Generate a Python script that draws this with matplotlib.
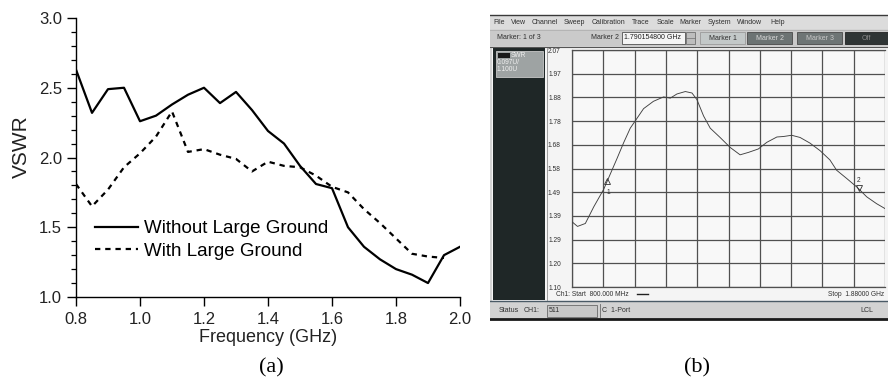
import matplotlib
matplotlib.use("Agg")
import matplotlib.pyplot as plt
from matplotlib.patches import Rectangle
from matplotlib.ticker import MultipleLocator

# ---- panel (a) data : VSWR vs frequency (GHz)
freq_a = [0.80, 0.85, 0.90, 0.95, 1.00, 1.05, 1.10, 1.15, 1.20, 1.25, 1.30, 1.35, 1.40,
          1.45, 1.50, 1.55, 1.60, 1.65, 1.70, 1.75, 1.80, 1.85, 1.90, 1.95, 2.00]
vswr_without = [2.63, 2.32, 2.49, 2.50, 2.26, 2.30, 2.38, 2.45, 2.50, 2.39, 2.47, 2.34, 2.19,
                2.10, 1.94, 1.81, 1.78, 1.50, 1.36, 1.27, 1.20, 1.16, 1.10, 1.30, 1.36]
vswr_with = [1.81, 1.65, 1.77, 1.93, 2.03, 2.15, 2.33, 2.04, 2.06, 2.02, 1.99, 1.90, 1.97,
             1.94, 1.93, 1.87, 1.79, 1.75, 1.63, 1.53, 1.42, 1.31, 1.29, 1.28]
legend_labels = ["Without Large Ground", "With Large Ground"]

# ---- panel (b) data : analyzer trace (MHz, VSWR)
trace_freq = [800, 819, 846, 875, 909, 955, 978, 1001, 1024, 1047, 1081, 1116, 1139, 1162,
              1191, 1214, 1231, 1254, 1277, 1311, 1346, 1380, 1409, 1443, 1472, 1507, 1530,
              1558, 1587, 1621, 1656, 1690, 1713, 1748, 1782, 1817, 1851, 1880]
trace_vswr = [1.367, 1.348, 1.360, 1.428, 1.499, 1.625, 1.690, 1.750, 1.790, 1.830, 1.860,
              1.878, 1.873, 1.890, 1.900, 1.894, 1.867, 1.800, 1.750, 1.712, 1.671, 1.641,
              1.651, 1.665, 1.692, 1.714, 1.716, 1.721, 1.712, 1.689, 1.658, 1.620, 1.578,
              1.544, 1.510, 1.469, 1.441, 1.421]
marker_freq = [920.1608, 1790.155]
marker_vswr = [1.534, 1.506]
ytick_labels = ["1.10", "1.20", "1.29", "1.39", "1.49", "1.58", "1.68", "1.78", "1.88", "1.97", "2.07"]
menu_items = ["File", "View", "Channel", "Sweep", "Calibration", "Trace", "Scale", "Marker",
              "System", "Window", "Help"]

W, H = 888, 382
fig = plt.figure(figsize=(W / 100, H / 100), dpi=100)
sans = "Liberation Sans"


def fbox(x0, y0, x1, y1):
    # pixel box (top-left origin) -> figure fraction
    return [x0 / W, (H - y1) / H, (x1 - x0) / W, (y1 - y0) / H]


# ================= panel (a)
ax = fig.add_axes(fbox(76, 18, 460, 297))
ax.plot(freq_a, vswr_without, color="black", lw=1.6, label=legend_labels[0])
ax.plot(freq_a[:len(vswr_with)], vswr_with, color="black", lw=1.6,
        dashes=(2.4, 2.2), label=legend_labels[1])
ax.set_xlim(0.8, 2.0)
ax.set_ylim(1.0, 3.0)
ax.xaxis.set_major_locator(MultipleLocator(0.2))
ax.yaxis.set_major_locator(MultipleLocator(0.5))
ax.yaxis.set_minor_locator(MultipleLocator(0.1))
ax.xaxis.set_major_formatter(matplotlib.ticker.FormatStrFormatter("%.1f"))
ax.yaxis.set_major_formatter(matplotlib.ticker.FormatStrFormatter("%.1f"))
for s in ["top", "right"]:
    ax.spines[s].set_visible(False)
for s in ["left", "bottom"]:
    ax.spines[s].set_linewidth(1.0)
ax.tick_params(axis="both", which="major", direction="out", length=6.5, width=1.0,
               labelsize=12, colors="black")
ax.tick_params(axis="y", which="major", pad=3.5)
ax.tick_params(axis="x", which="major", pad=4)
ax.tick_params(axis="y", which="minor", direction="out", length=3.5, width=0.9)
for lab in ax.get_xticklabels() + ax.get_yticklabels():
    lab.set_family(sans)
    lab.set_color("#222222")
ax.set_xlabel("Frequency (GHz)", fontsize=13, family=sans, color="#222222")
ax.set_ylabel("VSWR", fontsize=15, family=sans, color="#222222")
ax.xaxis.set_label_coords(0.5, (297 - 329) / 279)
ax.yaxis.label.set_va("center")
ax.yaxis.set_label_coords((21 - 76) / 384, (297 - 147) / 279)
ax.legend(loc="upper left", bbox_to_anchor=(95 / W, 1 - 220 / H), bbox_transform=fig.transFigure,
          frameon=False, borderpad=0, borderaxespad=0, handlelength=2.3, handletextpad=0.3,
          labelspacing=0.3, prop={"family": sans, "size": 13.5})
fig.text(271 / W, 1 - 368 / H, "(a)", ha="center", va="center", fontsize=16,
         family="Liberation Serif")
fig.text(697 / W, 1 - 368 / H, "(b)", ha="center", va="center", fontsize=16,
         family="Liberation Serif")

# ================= panel (b) : window chrome in pixel coords
aw = fig.add_axes(fbox(490, 14, 888, 322))
aw.set_xlim(490, 888)
aw.set_ylim(322, 14)
aw.axis("off")


def rect(x0, y0, x1, y1, fc, ec="none", lw=0.6, z=1):
    aw.add_patch(Rectangle((x0, y0), x1 - x0, y1 - y0, facecolor=fc, edgecolor=ec, lw=lw, zorder=z))


def txt(x, y, s, ha="left", c="#303030", size=5.0, z=5):
    aw.text(x, y, s, ha=ha, va="center", color=c, fontsize=size, family=sans, zorder=z)


rect(490, 15, 888, 320, "#d4d4d4")
aw.plot([490, 888], [15.3, 15.3], color="#3a3a3a", lw=1.0, zorder=3)
rect(490, 16, 888, 29, "#dcdcdc")
aw.plot([490, 888], [29.5, 29.5], color="#b0b0b0", lw=0.6, zorder=3)
menu_x = [493, 511, 532, 564, 592, 632, 657, 679, 708, 737, 770]
for mx, m in zip(menu_x, menu_items):
    txt(mx, 22.5, m)

# toolbar
rect(490, 30, 888, 46, "#cacaca")
txt(497, 37.5, "Marker: 1 of 3")
txt(591, 37.5, "Marker 2")
rect(622, 31.5, 685, 43.5, "#f4f4f4", ec="#505050", z=2)
txt(624, 37.5, "1.790154800 GHz", c="#202020")
rect(686, 31.5, 695, 43.5, "#bdbdbd", ec="#707070", z=2)
aw.plot([686, 695], [37.5, 37.5], color="#707070", lw=0.5, zorder=3)
rect(700, 32, 745, 43.5, "#c3c8c8", ec="#9a9a9a", z=2)
txt(722.5, 38, "Marker 1", ha="center")
rect(747, 32, 792, 43.5, "#6c7373", ec="#4a4a4a", z=2)
txt(769.5, 38, "Marker 2", ha="center", c="#d8d8d8")
rect(797, 32, 842, 43.5, "#6e7575", ec="#4a4a4a", z=2)
txt(819.5, 38, "Marker 3", ha="center", c="#c8c8c8")
rect(845, 32, 888, 43.5, "#2f3535", ec="#222222", z=2)
txt(866.5, 38, "Off", ha="center", c="#8a8a8a")
aw.plot([490, 888], [46.8, 46.8], color="#555555", lw=0.8, zorder=3)

# main area
rect(492, 48, 888, 301, "#f4f4f4")
rect(493, 48, 545, 300, "#1f2727", z=2)
rect(496, 51, 543, 77, "#9ea3a3", ec="#c8c8c8", z=3)
rect(497.5, 52.5, 510, 58, "#1a1a1a", z=4)
txt(511, 55, "SWR", c="#f0f0f0", size=4.8)
txt(497, 62, "0.097U/", c="#f0f0f0", size=4.8)
txt(497, 69, "1.100U", c="#f0f0f0", size=4.8)
aw.plot([546.5, 546.5], [48, 300], color="#909090", lw=0.6, zorder=3)

# bottom info line
txt(556, 294, "Ch1: Start  800.000 MHz", size=4.8)
aw.plot([637, 648], [294, 294], color="#202020", lw=1.0, zorder=4)
txt(884, 294, "Stop  1.88000 GHz", ha="right", size=4.8)

# status bar
aw.plot([490, 888], [301.3, 301.3], color="#4a5a66", lw=1.0, zorder=3)
rect(490, 302, 888, 318, "#d2d2d2", z=2)
txt(499, 311, "Status")
txt(524, 311, "CH1:")
rect(547, 305, 597, 317, "#c8c8c8", ec="#6a6a6a", z=3)
txt(549, 311, "511")
aw.plot([599.5, 599.5], [304, 317], color="#6a6a6a", lw=0.6, zorder=3)
txt(602, 311, "C  1-Port")
txt(860, 311, "LCL")
aw.plot([490, 888], [319, 319], color="#1a1a1a", lw=2.0, zorder=3)

# ---- analyzer trace axes
at = fig.add_axes(fbox(572, 50, 885, 287))
at.set_facecolor("#f8f8f8")
at.plot(trace_freq, trace_vswr, color="#404040", lw=0.65, zorder=3)
at.set_xlim(800, 1880)
at.set_ylim(1.10, 2.07)
xt = [800 + 108 * i for i in range(11)]
yt = [1.10 + 0.097 * i for i in range(11)]
at.set_xticks(xt)
at.set_yticks(yt, ytick_labels)
at.set_xticklabels([])
at.grid(True, color="#505050", lw=0.9)
at.tick_params(length=0, labelsize=4.8, pad=8)
for lab in at.get_yticklabels():
    lab.set_family(sans)
    lab.set_color("#303030")
for s in at.spines.values():
    s.set_color("#505050")
    s.set_linewidth(0.9)
at.spines["right"].set_visible(False)

# markers
at.plot(marker_freq[0], marker_vswr[0], marker="^", ms=4.5, mfc="none", mec="#303030",
        mew=0.6, zorder=4)
at.annotate("1", (marker_freq[0], marker_vswr[0]), xytext=(1, -8), textcoords="offset points",
            fontsize=4.8, ha="center", va="center", color="#303030", family=sans)
at.plot(marker_freq[1], marker_vswr[1], marker="v", ms=4.5, mfc="none", mec="#303030",
        mew=0.6, zorder=4)
at.annotate("2", (marker_freq[1], marker_vswr[1]), xytext=(0, 5.5), textcoords="offset points",
            fontsize=4.8, ha="center", va="center", color="#303030", family=sans)

# marker readout
rect(573, 53, 591, 59, "#1a1a1a", z=6)
txt(787, 53.5, "1:", ha="right", size=4.8, z=6)
txt(848, 53.5, "920.160800 MHz", ha="right", size=4.8, z=6)
txt(884, 53.5, "1.534", ha="right", size=4.8, z=6)
txt(787, 62, "> 2:", ha="right", size=4.8, z=6)
txt(848, 62, "1.790155 GHz", ha="right", size=4.8, z=6)
txt(884, 62, "1.506", ha="right", size=4.8, z=6)
aw.set_zorder(0)
at.set_zorder(1)

fig.savefig("out.png", dpi=100)
